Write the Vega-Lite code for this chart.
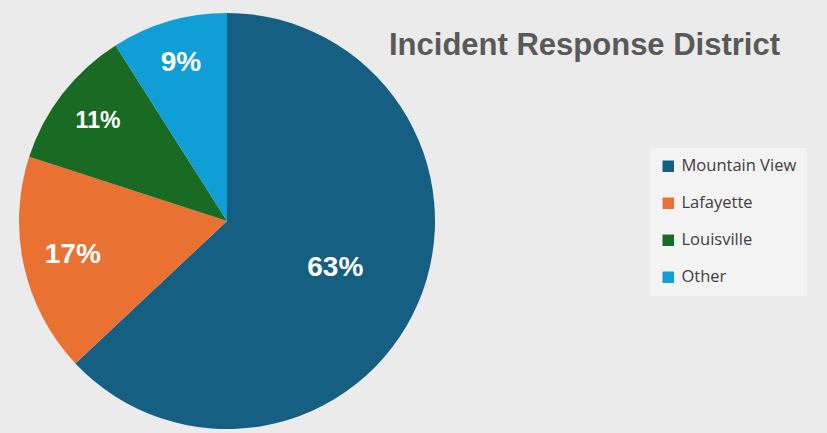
{
  "$schema": "https://vega.github.io/schema/vega-lite/v6.json",
  "width": 414,
  "height": 416,
  "autosize": {"type": "none"},
  "padding": {"left": 20, "top": 13, "right": 393, "bottom": 4},
  "background": "#ebebeb",
  "title": {
    "text": "Incident Response District",
    "anchor": "start",
    "frame": "group",
    "dx": 369,
    "offset": -73,
    "baseline": "alphabetic",
    "fontSize": 31,
    "font": "Liberation Sans",
    "fontWeight": "bold",
    "color": "#595959"
  },
  "data": {
    "values": [
      {"district": "Mountain View", "pct": 63, "label": "63%", "rank": 1},
      {"district": "Lafayette", "pct": 17, "label": "17%", "rank": 2},
      {"district": "Louisville", "pct": 11, "label": "11%", "rank": 3},
      {"district": "Other", "pct": 9, "label": "9%", "rank": 4}
    ]
  },
  "encoding": {
    "theta": {"field": "pct", "type": "quantitative", "stack": true},
    "order": {"field": "rank", "type": "quantitative", "sort": "ascending"}
  },
  "layer": [
    {
      "mark": {"type": "arc", "outerRadius": 208, "strokeWidth": 0},
      "encoding": {
        "color": {
          "field": "district",
          "type": "nominal",
          "scale": {
            "domain": ["Mountain View", "Lafayette", "Louisville", "Other"],
            "range": ["#156082", "#E97132", "#196B24", "#0F9ED5"]
          },
          "legend": {
            "orient": "none",
            "legendX": 630,
            "legendY": 135,
            "title": null,
            "symbolType": "square",
            "symbolSize": 132,
            "symbolStrokeWidth": 0,
            "symbolOpacity": 1,
            "labelFontSize": 16.5,
            "labelFont": "Open Sans",
            "labelColor": "#404040",
            "labelOffset": 5,
            "rowPadding": 20,
            "padding": 10,
            "fillColor": "#f3f3f3"
          }
        }
      }
    },
    {
      "mark": {
        "type": "text",
        "font": "Liberation Sans",
        "fontWeight": "bold",
        "fill": "white",
        "fontSize": 28,
        "align": "center",
        "baseline": "middle"
      },
      "encoding": {
        "radius": {
          "field": "pct",
          "type": "quantitative",
          "scale": {"type": "linear", "domain": [9, 63], "range": [165, 118], "zero": false}
        },
        "text": {"field": "label", "type": "nominal"},
        "size": {"condition": {"test": "datum.district === 'Louisville'", "value": 23}, "value": 28}
      }
    }
  ],
  "config": {"view": {"stroke": null}}
}
